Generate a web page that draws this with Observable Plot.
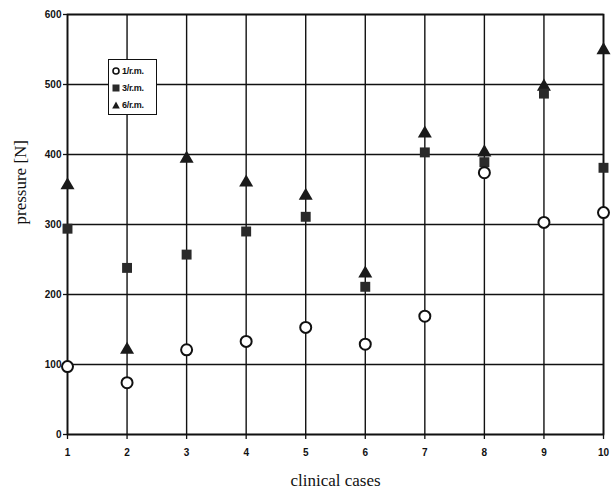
<!DOCTYPE html>
<html><head><meta charset="utf-8">
<script src="https://cdn.jsdelivr.net/npm/d3@7"></script>
<script src="https://cdn.jsdelivr.net/npm/@observablehq/plot@0.6"></script>
<style>
body{margin:0;background:#fff}
#wrap{position:relative;width:612px;height:493px}
#legend{position:absolute;left:108px;top:59px;width:49px;height:56px;border:1px solid #111;background:#fff;font:bold 9px "Liberation Sans",Arial,sans-serif;letter-spacing:-0.3px;color:#111;padding:2px 0 0 0;box-sizing:border-box}
#legend div{display:flex;align-items:center;height:17px;padding-left:3px}
#legend svg{margin-right:2px}
</style>
</head><body><div id="wrap"></div>
<script>
const cases = [1, 2, 3, 4, 5, 6, 7, 8, 9, 10];
const rm1 = [97, 74, 121, 133, 153, 129, 169, 374, 303, 317];
const rm3 = [294, 238, 257, 290, 311, 211, 403, 389, 487, 381];
const rm6 = [356, 121, 394, 360, 341, 230, 430, 403, 497, 549];
const seriesNames = ["1/r.m.", "3/r.m.", "6/r.m."];
const yTicks = [0, 100, 200, 300, 400, 500, 600];

const rows = [];
[rm1, rm3, rm6].forEach((vals, i) => cases.forEach((c, j) => rows.push({case: c, value: vals[j], series: seriesNames[i]})));
const ink = "#111";
const tickFont = "Liberation Sans, Arial, sans-serif";
const serif = "Liberation Serif, Times New Roman, serif";

const chart = Plot.plot({
  width: 612, height: 493,
  marginLeft: 67, marginRight: 9, marginTop: 14, marginBottom: 59,
  style: {background: "#fff", color: ink},
  x: {domain: [1, 10]},
  y: {domain: [0, 600]},
  marks: [
    Plot.gridX(cases, {stroke: ink, strokeOpacity: 1, strokeWidth: 1.4}),
    Plot.gridY(yTicks, {stroke: ink, strokeOpacity: 1, strokeWidth: 1.4}),
    Plot.frame({stroke: ink, strokeWidth: 1.7}),
    Plot.axisX(cases, {tickSize: 5, tickPadding: 9, fontSize: 10, fontWeight: "bold", fontFamily: tickFont, label: null, stroke: ink, strokeWidth: 1.3}),
    Plot.axisY(yTicks, {tickSize: 4, tickPadding: 2, fontSize: 10, fontWeight: "bold", fontFamily: tickFont, label: null, stroke: ink, strokeWidth: 1.3}),
    Plot.dot(rows.filter(d => d.series === seriesNames[2]), {x: "case", y: "value", symbol: "triangle", r: 5.2, fill: "#1a1a1a", stroke: "none"}),
    Plot.dot(rows.filter(d => d.series === seriesNames[1]), {x: "case", y: "value", symbol: "square", r: 5.6, fill: "#2a2a2a", stroke: "none"}),
    Plot.dot(rows.filter(d => d.series === seriesNames[0]), {x: "case", y: "value", symbol: "circle", r: 5.5, fill: "#fff", stroke: ink, strokeWidth: 2}),
    Plot.text(["clinical cases"], {frameAnchor: "bottom", dy: 51, fontFamily: serif, fontSize: 17, fill: ink}),
    Plot.text(["pressure [N]"], {frameAnchor: "left", dx: -47, rotate: -90, fontFamily: serif, fontSize: 17, fill: ink})
  ]
});
const wrap = document.getElementById("wrap");
wrap.appendChild(chart);

// legend
const legend = document.createElement("div");
legend.id = "legend";
const symSvg = [
  '<svg width="8" height="8"><circle cx="4" cy="4" r="3" fill="#fff" stroke="#111" stroke-width="1.6"/></svg>',
  '<svg width="8" height="8"><rect x="0.5" y="0.5" width="7" height="7" fill="#2a2a2a"/></svg>',
  '<svg width="8" height="8"><path d="M4,0.5L7.8,7.5H0.2Z" fill="#1a1a1a"/></svg>'
];
seriesNames.forEach((n, i) => {
  const row = document.createElement("div");
  row.innerHTML = symSvg[i] + "<span>" + n + "</span>";
  legend.appendChild(row);
});
wrap.appendChild(legend);
</script>
</body></html>
